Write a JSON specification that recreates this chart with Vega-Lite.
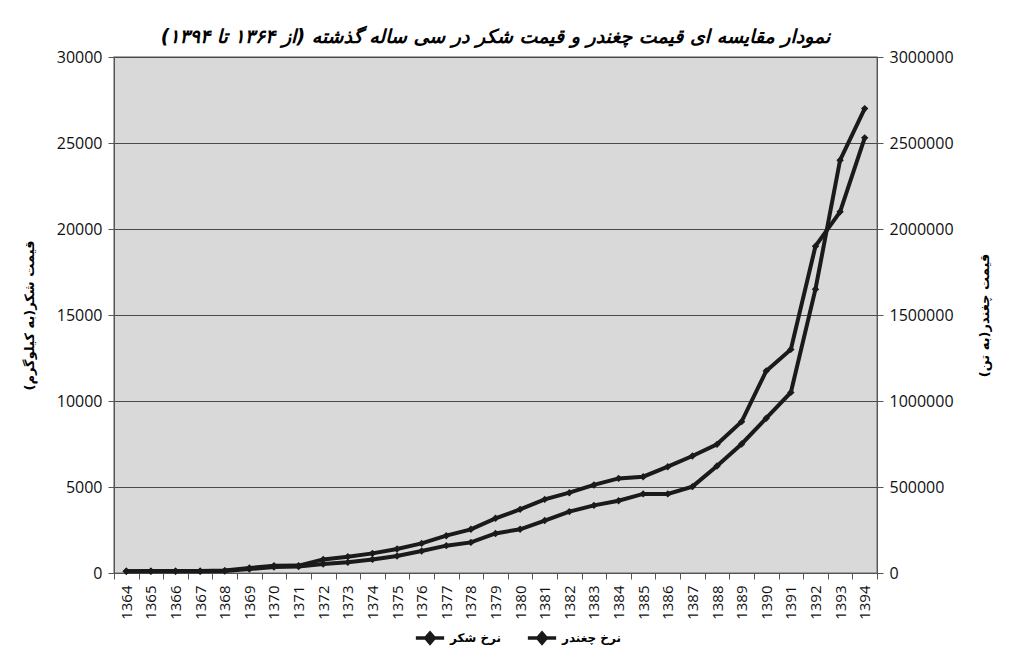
{
  "$schema": "https://vega.github.io/schema/vega-lite/v6.json",
  "autosize": {"type": "none"},
  "width": 763,
  "height": 516,
  "padding": {"left": 114, "top": 57, "right": 141, "bottom": 87},
  "background": "white",
  "title": {
    "text": "\u200fنمودار مقایسه ای قیمت چغندر و قیمت شکر در سی ساله گذشته (از ۱۳۶۴ تا ۱۳۹۴)\u200f",
    "font": "DejaVu Sans",
    "fontSize": 19,
    "fontStyle": "italic",
    "fontWeight": "bold",
    "color": "black",
    "offset": 2,
    "anchor": "middle"
  },
  "config": {
    "view": {"fill": "#d9d9d9", "stroke": "#8c8c8c", "strokeWidth": 1.5},
    "axis": {
      "labelFont": "Open Sans",
      "labelColor": "#111",
      "titleFont": "DejaVu Sans",
      "titleColor": "black",
      "domainColor": "#555",
      "tickColor": "#555",
      "gridColor": "#4a4a4a",
      "gridWidth": 1.2
    }
  },
  "data": {
    "values": [
      {"year": "1364", "sugar": 100, "beet": 10000},
      {"year": "1365", "sugar": 110, "beet": 10000},
      {"year": "1366", "sugar": 110, "beet": 10000},
      {"year": "1367", "sugar": 110, "beet": 10000},
      {"year": "1368", "sugar": 140, "beet": 12000},
      {"year": "1369", "sugar": 290, "beet": 23000},
      {"year": "1370", "sugar": 420, "beet": 35000},
      {"year": "1371", "sugar": 430, "beet": 38000},
      {"year": "1372", "sugar": 790, "beet": 52000},
      {"year": "1373", "sugar": 950, "beet": 62000},
      {"year": "1374", "sugar": 1140, "beet": 79000},
      {"year": "1375", "sugar": 1400, "beet": 99000},
      {"year": "1376", "sugar": 1720, "beet": 128000},
      {"year": "1377", "sugar": 2170, "beet": 159000},
      {"year": "1378", "sugar": 2540, "beet": 178000},
      {"year": "1379", "sugar": 3180, "beet": 230000},
      {"year": "1380", "sugar": 3700, "beet": 254000},
      {"year": "1381", "sugar": 4280, "beet": 305000},
      {"year": "1382", "sugar": 4670, "beet": 357000},
      {"year": "1383", "sugar": 5120, "beet": 393000},
      {"year": "1384", "sugar": 5500, "beet": 420000},
      {"year": "1385", "sugar": 5600, "beet": 460000},
      {"year": "1386", "sugar": 6180, "beet": 460000},
      {"year": "1387", "sugar": 6800, "beet": 502000},
      {"year": "1388", "sugar": 7480, "beet": 622000},
      {"year": "1389", "sugar": 8800, "beet": 750000},
      {"year": "1390", "sugar": 11750, "beet": 900000},
      {"year": "1391", "sugar": 13000, "beet": 1050000},
      {"year": "1392", "sugar": 19000, "beet": 1650000},
      {"year": "1393", "sugar": 21000, "beet": 2400000},
      {"year": "1394", "sugar": 25300, "beet": 2700000}
    ]
  },
  "encoding": {
    "x": {
      "field": "year",
      "type": "ordinal",
      "scale": {"type": "band", "paddingInner": 0, "paddingOuter": 0},
      "axis": {
        "title": null,
        "labelAngle": -90,
        "labelFontSize": 15,
        "labelPadding": 6,
        "tickBand": "extent",
        "tickSize": 6,
        "grid": false
      }
    }
  },
  "layer": [
    {
      "mark": {"type": "line", "color": "#1a1a1a", "strokeWidth": 4, "point": {"shape": "diamond", "filled": true, "size": 55, "color": "#1a1a1a"}},
      "encoding": {
        "y": {
          "field": "sugar",
          "type": "quantitative",
          "scale": {"domain": [0, 30000]},
          "axis": {
            "title": "\u200fقیمت شکر(به کیلوگرم)\u200f",
            "titleFontSize": 13,
            "titleFontWeight": "bold",
            "titlePadding": 20,
            "values": [0, 5000, 10000, 15000, 20000, 25000, 30000],
            "format": "d",
            "labelFontSize": 16,
            "labelPadding": 6,
            "tickSize": 6,
            "grid": true
          }
        },
        "color": {
          "datum": "نرخ شکر",
          "type": "nominal",
          "scale": {"domain": ["نرخ شکر", "نرخ چغندر"], "range": ["#1a1a1a", "#1a1a1a"]},
          "legend": {
            "title": null,
            "orient": "none",
            "direction": "horizontal",
            "legendX": 300,
            "legendY": 565,
            "labelFont": "DejaVu Sans",
            "labelFontSize": 12,
            "labelFontWeight": "bold",
            "labelColor": "black",
            "symbolType": "M-1,0H1M0,-0.35L0.3,0L0,0.35L-0.3,0Z",
            "symbolSize": 800,
            "symbolStrokeWidth": 3.5,
            "symbolFillColor": "#1a1a1a",
            "columnPadding": 18
          }
        }
      }
    },
    {
      "mark": {"type": "line", "color": "#1a1a1a", "strokeWidth": 4, "point": {"shape": "diamond", "filled": true, "size": 55, "color": "#1a1a1a"}},
      "encoding": {
        "y": {
          "field": "beet",
          "type": "quantitative",
          "scale": {"domain": [0, 3000000]},
          "axis": {
            "orient": "right",
            "title": "\u200fقیمت چغندر(به تن)\u200f",
            "titleFontSize": 13,
            "titleFontWeight": "bold",
            "titleAngle": -90,
            "titlePadding": 38,
            "values": [0, 500000, 1000000, 1500000, 2000000, 2500000, 3000000],
            "format": "d",
            "labelFontSize": 16,
            "labelPadding": 6,
            "tickSize": 6,
            "grid": false
          }
        },
        "color": {"datum": "نرخ چغندر", "type": "nominal"}
      }
    }
  ],
  "resolve": {"scale": {"y": "independent"}, "axis": {"y": "independent"}}
}
